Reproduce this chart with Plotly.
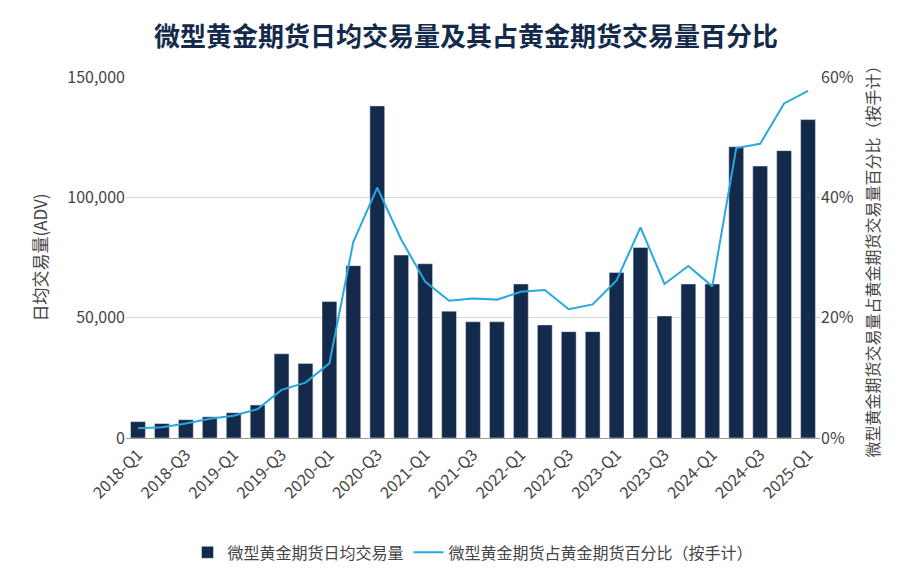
import plotly.graph_objects as go

quarters = [f"{y}-Q{q}" for y in range(2018, 2025) for q in range(1, 5)] + ["2025-Q1"]
adv = [6800, 6000, 7600, 8800, 10500, 13700, 35000, 31000,
       56700, 71600, 138000, 76000, 72400, 52700, 48300, 48300,
       64000, 47000, 44200, 44200, 68800, 79200, 50700, 64000,
       64000, 121000, 113000, 119400, 132300]
share = [1.6, 1.8, 2.4, 3.2, 3.7, 4.8, 8.0, 9.2,
         12.4, 32.6, 41.6, 33.0, 26.0, 22.8, 23.2, 23.0,
         24.3, 24.6, 21.4, 22.2, 26.2, 35.0, 25.6, 28.6,
         25.2, 48.2, 48.9, 55.6, 57.7]
pct_ticks = [0, 20, 40, 60]

font = "Noto Sans CJK SC"
fig = go.Figure()
fig.add_trace(go.Bar(x=quarters, y=adv, name="微型黄金期货日均交易量",
                     marker_color="#132a4a", width=0.62))
fig.add_trace(go.Scatter(x=quarters, y=share, name="微型黄金期货占黄金期货百分比（按手计）",
                         yaxis="y2", mode="lines", line=dict(color="#29a8e0", width=2)))

fig.update_layout(
    width=916, height=574,
    font=dict(family=font, size=16, color="#444"),
    title=dict(text="<b>微型黄金期货日均交易量及其占黄金期货交易量百分比</b>",
               x=0.5, y=0.965, font=dict(size=26, color="#132a4a")),
    plot_bgcolor="white", paper_bgcolor="white",
    margin=dict(l=118, r=104, t=69, b=132),
    bargap=0.38,
    xaxis=dict(tickangle=-45, tickmode="array", tickvals=quarters[::2],
               showline=True, linecolor="#999", ticks=""),
    yaxis=dict(title=dict(text="日均交易量(ADV)", font=dict(size=17)), range=[0, 150000],
               tickvals=[0, 50000, 100000, 150000],
               tickformat=",", gridcolor="#d9d9d9", zeroline=False),
    yaxis2=dict(title=dict(text="微型黄金期货交易量占黄金期货交易量百分比（按手计）", font=dict(size=16)),
                overlaying="y", side="right", range=[0, 60],
                tickvals=pct_ticks, ticktext=[f"{v}%" for v in pct_ticks],
                showgrid=False, zeroline=False),
    legend=dict(orientation="h", x=0.5, xanchor="center", y=-0.27, yanchor="top", font=dict(size=16)),
)
fig.write_html("out.html")
